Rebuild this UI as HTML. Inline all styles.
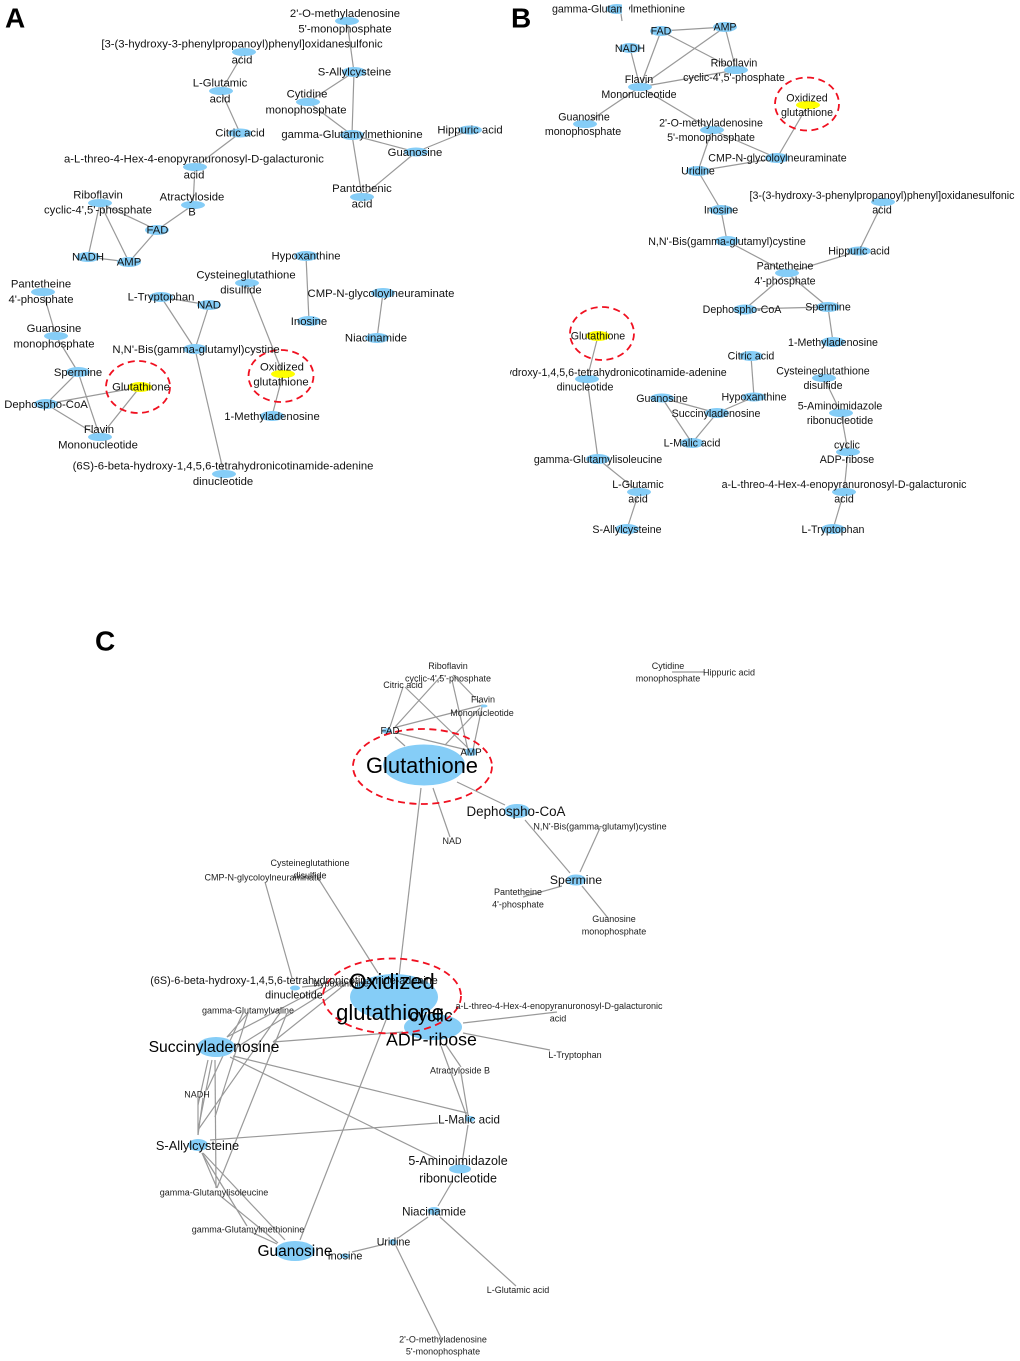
<!DOCTYPE html>
<html><head><meta charset="utf-8"><style>
html,body{margin:0;padding:0;background:#fff}
svg{display:block;filter:blur(.3px)}
text{font-family:"Liberation Sans",Arial,sans-serif;fill:#111;text-anchor:middle;dominant-baseline:central;font-size:11.3px;transform:translateY(.6px)}
.b{font-size:10.65px}
.s{font-size:9px;fill:#222}
.h{font-size:28px;font-weight:bold;fill:#000;text-anchor:start;dominant-baseline:auto}
.e line{stroke:#999;stroke-width:1.2}
.n ellipse{fill:#85cdf7}
.y{fill:#ffff00}
.r{fill:none;stroke:#f01020;stroke-width:1.8;stroke-dasharray:7 4.5}
</style></head><body>
<svg width="1020" height="1361" viewBox="0 0 1020 1361" xmlns="http://www.w3.org/2000/svg">
<rect width="1020" height="1361" fill="#fff"/>
<text class="h" x="5" y="27">A</text>
<text class="h" x="511" y="27">B</text>
<text class="h" x="95" y="650">C</text>

<!-- Panel A edges -->
<g class="e">
<line x1="347" y1="21" x2="354" y2="72"/><line x1="244" y1="52" x2="221" y2="91"/><line x1="221" y1="91" x2="240" y2="133"/><line x1="240" y1="133" x2="195" y2="167"/><line x1="195" y1="167" x2="193" y2="205"/><line x1="193" y1="205" x2="157" y2="230"/><line x1="157" y1="230" x2="100" y2="203"/><line x1="157" y1="230" x2="129" y2="262"/><line x1="100" y1="203" x2="88" y2="257"/><line x1="100" y1="203" x2="129" y2="262"/><line x1="88" y1="257" x2="129" y2="262"/>
<line x1="354" y1="72" x2="308" y2="102"/><line x1="354" y1="72" x2="352" y2="135"/><line x1="308" y1="102" x2="352" y2="135"/><line x1="352" y1="135" x2="416" y2="152"/><line x1="352" y1="135" x2="362" y2="197"/><line x1="416" y1="152" x2="470" y2="130"/><line x1="416" y1="152" x2="362" y2="197"/>
<line x1="306" y1="256" x2="309" y2="321"/><line x1="383" y1="293" x2="377" y2="338"/><line x1="247" y1="283" x2="283" y2="374"/><line x1="283" y1="374" x2="272" y2="416"/><line x1="161" y1="297" x2="209" y2="305"/><line x1="161" y1="297" x2="195" y2="349"/><line x1="209" y1="305" x2="195" y2="349"/><line x1="195" y1="349" x2="224" y2="474"/>
<line x1="43" y1="292" x2="56" y2="336"/><line x1="56" y1="336" x2="78" y2="372"/><line x1="78" y1="372" x2="46" y2="404"/><line x1="78" y1="372" x2="100" y2="437"/><line x1="46" y1="404" x2="140" y2="387"/><line x1="46" y1="404" x2="100" y2="437"/><line x1="140" y1="387" x2="100" y2="437"/>
</g>
<!-- Panel A nodes -->
<g class="n">
<ellipse cx="347" cy="21" rx="12" ry="4"/><ellipse cx="244" cy="52" rx="12" ry="4"/><ellipse cx="221" cy="91" rx="12" ry="4"/><ellipse cx="240" cy="133" rx="12" ry="4.5"/><ellipse cx="195" cy="167" rx="12" ry="4"/><ellipse cx="193" cy="205" rx="12" ry="4"/><ellipse cx="100" cy="203" rx="12" ry="4"/><ellipse cx="157" cy="230" rx="12" ry="5"/><ellipse cx="88" cy="257" rx="12" ry="5"/><ellipse cx="129" cy="262" rx="12" ry="5"/>
<ellipse cx="354" cy="72" rx="12" ry="5"/><ellipse cx="308" cy="102" rx="12" ry="4"/><ellipse cx="352" cy="135" rx="12" ry="5"/><ellipse cx="470" cy="130" rx="12" ry="4.5"/><ellipse cx="416" cy="152" rx="12" ry="4.5"/><ellipse cx="362" cy="197" rx="12" ry="4"/>
<ellipse cx="306" cy="256" rx="12" ry="5"/><ellipse cx="247" cy="283" rx="12" ry="4"/><ellipse cx="383" cy="293" rx="12" ry="5"/><ellipse cx="309" cy="321" rx="12" ry="5"/><ellipse cx="377" cy="338" rx="12" ry="5"/><ellipse cx="161" cy="297" rx="12" ry="5"/><ellipse cx="209" cy="305" rx="12" ry="5"/><ellipse cx="195" cy="349" rx="12" ry="5"/><ellipse cx="272" cy="416" rx="12" ry="5"/>
<ellipse cx="43" cy="292" rx="12" ry="4"/><ellipse cx="56" cy="336" rx="12" ry="4"/><ellipse cx="78" cy="372" rx="12" ry="5"/><ellipse cx="46" cy="404" rx="12" ry="5"/><ellipse cx="100" cy="437" rx="12" ry="4"/><ellipse cx="224" cy="474" rx="12" ry="4"/>
</g>
<ellipse class="y" cx="283" cy="374" rx="12" ry="4"/><ellipse class="y" cx="140" cy="387" rx="12" ry="5"/>
<ellipse class="r" cx="281" cy="376" rx="32.5" ry="26"/><ellipse class="r" cx="138" cy="387" rx="32" ry="26"/>
<!-- Panel A labels -->
<g>
<text x="345" y="13.5">2'-O-methyladenosine</text><text x="345" y="29">5'-monophosphate</text>
<text x="242" y="44">[3-(3-hydroxy-3-phenylpropanoyl)phenyl]oxidanesulfonic</text><text x="242" y="60">acid</text>
<text x="220" y="83">L-Glutamic</text><text x="220" y="99">acid</text>
<text x="240" y="133">Citric acid</text>
<text x="194" y="159">a-L-threo-4-Hex-4-enopyranuronosyl-D-galacturonic</text><text x="194" y="175">acid</text>
<text x="192" y="197">Atractyloside</text><text x="192" y="212">B</text>
<text x="98" y="195">Riboflavin</text><text x="98" y="210">cyclic-4',5'-phosphate</text>
<text x="157.5" y="230">FAD</text><text x="88" y="257">NADH</text><text x="129" y="262">AMP</text>
<text x="354.5" y="72">S-Allylcysteine</text>
<text x="307" y="94">Cytidine</text><text x="306" y="110">monophosphate</text>
<text x="352" y="134.5">gamma-Glutamylmethionine</text>
<text x="470" y="130">Hippuric acid</text><text x="415" y="152.5">Guanosine</text>
<text x="362" y="188.5">Pantothenic</text><text x="362" y="204">acid</text>
<text x="306" y="256">Hypoxanthine</text>
<text x="246" y="275">Cysteineglutathione</text><text x="241" y="290">disulfide</text>
<text x="381" y="293.5">CMP-N-glycoloylneuraminate</text><text x="309" y="321.5">Inosine</text><text x="376" y="338">Niacinamide</text>
<text x="161" y="297">L-Tryptophan</text><text x="209" y="305">NAD</text>
<text x="196" y="349.5">N,N'-Bis(gamma-glutamyl)cystine</text>
<text x="282" y="367">Oxidized</text><text x="281" y="382">glutathione</text>
<text x="272" y="416.5">1-Methyladenosine</text><text x="141" y="387">Glutathione</text>
<text x="41" y="284">Pantetheine</text><text x="41" y="299.5">4'-phosphate</text>
<text x="54" y="328.5">Guanosine</text><text x="54" y="344">monophosphate</text>
<text x="78" y="372.5">Spermine</text><text x="46" y="404.5">Dephospho-CoA</text>
<text x="99" y="429.5">Flavin</text><text x="98" y="445">Mononucleotide</text>
<text x="223" y="466">(6S)-6-beta-hydroxy-1,4,5,6-tetrahydronicotinamide-adenine</text><text x="223" y="481.5">dinucleotide</text>
</g>

<!-- Panel B edges -->
<g class="e">
<line x1="661" y1="31" x2="725" y2="27"/><line x1="661" y1="31" x2="736" y2="70"/><line x1="725" y1="27" x2="736" y2="70"/><line x1="725" y1="27" x2="640" y2="87"/><line x1="661" y1="31" x2="640" y2="87"/><line x1="630" y1="48" x2="640" y2="87"/><line x1="640" y1="87" x2="736" y2="70"/><line x1="640" y1="87" x2="585" y2="124"/><line x1="640" y1="87" x2="712" y2="130"/><line x1="712" y1="130" x2="777" y2="158"/><line x1="712" y1="130" x2="698" y2="171"/><line x1="777" y1="158" x2="698" y2="171"/><line x1="777" y1="158" x2="808" y2="105"/><line x1="698" y1="171" x2="721" y2="210"/><line x1="721" y1="210" x2="727" y2="241"/><line x1="727" y1="241" x2="787" y2="273"/><line x1="787" y1="273" x2="859" y2="251"/><line x1="859" y1="251" x2="883" y2="202"/><line x1="621" y1="14" x2="622" y2="21"/>
<line x1="787" y1="273" x2="745" y2="309"/><line x1="787" y1="273" x2="828" y2="307"/><line x1="745" y1="309" x2="828" y2="307"/><line x1="828" y1="307" x2="833" y2="342"/><line x1="751" y1="356" x2="754" y2="397"/><line x1="754" y1="397" x2="717" y2="413"/><line x1="662" y1="398" x2="717" y2="413"/><line x1="662" y1="398" x2="692" y2="443"/><line x1="717" y1="413" x2="692" y2="443"/><line x1="824" y1="378" x2="841" y2="413"/><line x1="841" y1="413" x2="848" y2="452"/><line x1="848" y1="452" x2="844" y2="492"/><line x1="844" y1="492" x2="833" y2="529"/><line x1="598" y1="336" x2="587" y2="379"/><line x1="587" y1="379" x2="598" y2="459"/><line x1="598" y1="459" x2="639" y2="492"/><line x1="639" y1="492" x2="627" y2="529"/>
</g>
<!-- Panel B nodes -->
<g class="n">
<ellipse cx="617" cy="9" rx="11" ry="5"/><ellipse cx="661" cy="31" rx="11" ry="5"/><ellipse cx="725" cy="27" rx="12" ry="5"/><ellipse cx="630" cy="48" rx="11" ry="5"/><ellipse cx="736" cy="70" rx="12" ry="4"/><ellipse cx="640" cy="87" rx="12" ry="4"/><ellipse cx="585" cy="124" rx="12" ry="4"/><ellipse cx="712" cy="130" rx="12" ry="4"/><ellipse cx="777" cy="158" rx="12" ry="5"/><ellipse cx="698" cy="171" rx="12" ry="5"/><ellipse cx="721" cy="210" rx="12" ry="5"/><ellipse cx="727" cy="241" rx="12" ry="5"/><ellipse cx="883" cy="202" rx="12" ry="4"/><ellipse cx="859" cy="251" rx="12" ry="4.5"/><ellipse cx="787" cy="273" rx="12" ry="4"/>
<ellipse cx="745" cy="309.5" rx="12" ry="5"/><ellipse cx="828" cy="307" rx="12" ry="5"/><ellipse cx="833" cy="342" rx="12" ry="5"/><ellipse cx="751" cy="356" rx="12" ry="5"/><ellipse cx="754" cy="397" rx="12" ry="4.5"/><ellipse cx="662" cy="398" rx="12" ry="4.5"/><ellipse cx="717" cy="413" rx="12" ry="5"/><ellipse cx="692" cy="443" rx="12" ry="5"/><ellipse cx="824" cy="378" rx="12" ry="4"/><ellipse cx="841" cy="413" rx="12" ry="4"/><ellipse cx="848" cy="452" rx="12" ry="4"/><ellipse cx="844" cy="492" rx="12" ry="4"/><ellipse cx="833" cy="529" rx="12" ry="5"/><ellipse cx="587" cy="379" rx="12" ry="4"/><ellipse cx="598" cy="459" rx="12" ry="5"/><ellipse cx="639" cy="492" rx="12" ry="4"/><ellipse cx="627" cy="529" rx="12" ry="5"/>
</g>
<ellipse class="y" cx="808" cy="105" rx="12" ry="4"/><ellipse class="y" cx="598" cy="336" rx="12" ry="5"/>
<ellipse class="r" cx="807" cy="104" rx="32" ry="26.5"/><ellipse class="r" cx="602" cy="333.5" rx="32" ry="26.5"/>
<!-- Panel B labels -->
<g>
<text class="b" x="618.5" y="9">gamma-Glutamylmethionine</text>
<rect x="622" y="2" width="7" height="14" fill="#fff"/>
<text class="b" x="661" y="31">FAD</text><text class="b" x="725" y="27">AMP</text><text class="b" x="630" y="48.5">NADH</text>
<text class="b" x="734" y="63">Riboflavin</text><text class="b" x="734" y="77.5">cyclic-4',5'-phosphate</text>
<text class="b" x="639" y="79.5">Flavin</text><text class="b" x="639" y="94.5">Mononucleotide</text>
<text class="b" x="584" y="117">Guanosine</text><text class="b" x="583" y="131.5">monophosphate</text>
<text class="b" x="807" y="98">Oxidized</text><text class="b" x="807" y="112.5">glutathione</text>
<text class="b" x="711" y="123">2'-O-methyladenosine</text><text class="b" x="711" y="137.5">5'-monophosphate</text>
<text class="b" x="777.5" y="158">CMP-N-glycoloylneuraminate</text><text class="b" x="698" y="171">Uridine</text>
<text class="b" x="882" y="195.5">[3-(3-hydroxy-3-phenylpropanoyl)phenyl]oxidanesulfonic</text><text class="b" x="882" y="210">acid</text>
<text class="b" x="721" y="210">Inosine</text><text class="b" x="727" y="241.5">N,N'-Bis(gamma-glutamyl)cystine</text>
<text class="b" x="859" y="251">Hippuric acid</text>
<text class="b" x="785" y="266">Pantetheine</text><text class="b" x="785" y="281">4'-phosphate</text>
<text class="b" x="742" y="309.5">Dephospho-CoA</text><text class="b" x="828" y="307">Spermine</text><text class="b" x="833" y="342.5">1-Methyladenosine</text>
<text class="b" x="751" y="356">Citric acid</text><text class="b" x="754" y="397">Hypoxanthine</text><text class="b" x="662" y="398.5">Guanosine</text><text class="b" x="716" y="413.5">Succinyladenosine</text><text class="b" x="692" y="443">L-Malic acid</text>
<text class="b" x="823" y="371">Cysteineglutathione</text><text class="b" x="823" y="385.5">disulfide</text>
<text class="b" x="840" y="406">5-Aminoimidazole</text><text class="b" x="840" y="420.5">ribonucleotide</text>
<text class="b" x="847" y="445">cyclic</text><text class="b" x="847" y="459.5">ADP-ribose</text>
<text class="b" x="844" y="484.5">a-L-threo-4-Hex-4-enopyranuronosyl-D-galacturonic</text><text class="b" x="844" y="499">acid</text>
<text class="b" x="833" y="529.5">L-Tryptophan</text>
<text class="b" x="598" y="336">Glutathione</text>
<text class="b" x="585" y="372.5">(6S)-6-beta-hydroxy-1,4,5,6-tetrahydronicotinamide-adenine</text>
<rect x="420" y="364" width="90" height="17" fill="#fff"/>
<text class="b" x="585" y="387">dinucleotide</text>
<text class="b" x="598" y="459.5">gamma-Glutamylisoleucine</text>
<text class="b" x="638" y="484.5">L-Glutamic</text><text class="b" x="638" y="499">acid</text>
<text class="b" x="627" y="529.5">S-Allylcysteine</text>
</g>

<!-- Panel C edges -->
<g class="e">
<line x1="395" y1="727" x2="442" y2="675"/><line x1="403" y1="687" x2="390" y2="727"/><line x1="405" y1="687" x2="468" y2="748"/><line x1="452" y1="680" x2="468" y2="750"/><line x1="453" y1="675" x2="480" y2="703"/><line x1="483" y1="705" x2="393" y2="728"/><line x1="482" y1="707" x2="473" y2="750"/><line x1="480" y1="708" x2="445" y2="745"/><line x1="397" y1="733" x2="467" y2="750"/><line x1="395" y1="737" x2="405" y2="746"/><line x1="457" y1="782" x2="505" y2="805"/><line x1="433" y1="788" x2="450" y2="837"/><line x1="421" y1="788" x2="398" y2="985"/><line x1="525" y1="820" x2="570" y2="873"/><line x1="580" y1="872" x2="600" y2="828"/><line x1="562" y1="886" x2="523" y2="897"/><line x1="582" y1="886" x2="608" y2="918"/><line x1="672" y1="672" x2="704" y2="672"/>
<line x1="318" y1="878" x2="378" y2="973"/><line x1="265" y1="882" x2="292" y2="978"/>
<line x1="463" y1="1023" x2="557" y2="1012"/><line x1="463" y1="1033" x2="550" y2="1050"/><line x1="441" y1="1046" x2="467" y2="1117"/><line x1="446" y1="1045" x2="461" y2="1067"/><line x1="461" y1="1073" x2="468" y2="1115"/><line x1="468" y1="1125" x2="462" y2="1163"/><line x1="452" y1="1182" x2="438" y2="1206"/><line x1="428" y1="1217" x2="398" y2="1238"/><line x1="440" y1="1217" x2="516" y2="1286"/><line x1="385" y1="1244" x2="352" y2="1252"/><line x1="396" y1="1246" x2="442" y2="1340"/><line x1="300" y1="1240" x2="386" y2="1020"/>
<line x1="273" y1="1042" x2="403" y2="1032"/><line x1="233" y1="1056" x2="467" y2="1113"/><line x1="230" y1="1057" x2="435" y2="1158"/><line x1="210" y1="1140" x2="438" y2="1123"/>
<line x1="302" y1="987" x2="322" y2="985"/><line x1="322" y1="987" x2="227" y2="1037"/><line x1="340" y1="983" x2="237" y2="1047"/><line x1="348" y1="982" x2="273" y2="1042"/><line x1="248" y1="1013" x2="227" y2="1037"/><line x1="248" y1="1013" x2="215" y2="1117"/><line x1="280" y1="1013" x2="198" y2="1130"/><line x1="287" y1="1013" x2="217" y2="1188"/><line x1="212" y1="1060" x2="198" y2="1130"/><line x1="215" y1="1060" x2="216" y2="1188"/><line x1="198" y1="1098" x2="198" y2="1135"/><line x1="208" y1="1060" x2="198" y2="1105"/><line x1="243" y1="1013" x2="207" y2="1090"/><line x1="203" y1="1098" x2="198" y2="1135"/>
<line x1="202" y1="1153" x2="217" y2="1188"/><line x1="202" y1="1153" x2="247" y2="1226"/><line x1="203" y1="1153" x2="285" y2="1240"/><line x1="218" y1="1194" x2="278" y2="1243"/><line x1="251" y1="1232" x2="277" y2="1244"/>
</g>
<!-- Panel C nodes -->
<g class="n">
<ellipse cx="484" cy="706" rx="3.5" ry="1.5"/><ellipse cx="387" cy="731" rx="5" ry="3"/><ellipse cx="471" cy="752" rx="6" ry="4"/><ellipse cx="424" cy="765" rx="41" ry="20.5"/><ellipse cx="517" cy="811" rx="13" ry="7"/><ellipse cx="576" cy="880" rx="10" ry="5.5"/><ellipse cx="295" cy="988" rx="5" ry="2.5"/><ellipse cx="394" cy="997" rx="44" ry="23"/><ellipse cx="433" cy="1027" rx="29" ry="13"/><ellipse cx="216" cy="1047" rx="19" ry="10"/><ellipse cx="198" cy="1145" rx="10" ry="6"/><ellipse cx="295" cy="1251" rx="20" ry="10"/><ellipse cx="345" cy="1256" rx="5" ry="2.5"/><ellipse cx="393" cy="1242" rx="4" ry="3"/><ellipse cx="434" cy="1211" rx="6.5" ry="4"/><ellipse cx="460" cy="1169" rx="11" ry="4.5"/><ellipse cx="470" cy="1119" rx="5" ry="3"/>
</g>
<ellipse class="r" cx="422.5" cy="766.5" rx="69.5" ry="37.5"/>
<ellipse class="r" cx="392" cy="996" rx="69" ry="37.5"/>
<!-- Panel C labels -->
<g>
<text class="s" x="448" y="665.5">Riboflavin</text><text class="s" x="448" y="678">cyclic-4',5'-phosphate</text>
<text class="s" x="403" y="684.5">Citric acid</text>
<text class="s" x="483" y="699">Flavin</text><text class="s" x="482" y="712.5">Mononucleotide</text>
<text x="390" y="731" style="font-size:9.8px">FAD</text><text x="471" y="752.5" style="font-size:9.8px">AMP</text>
<text x="422" y="765" style="font-size:21.9px;fill:#000">Glutathione</text>
<text x="516" y="811" style="font-size:13.4px">Dephospho-CoA</text>
<text class="s" x="600" y="826">N,N'-Bis(gamma-glutamyl)cystine</text>
<text class="s" x="452" y="840.5">NAD</text>
<text x="576" y="879.5" style="font-size:12.2px">Spermine</text>
<text class="s" x="518" y="891.5">Pantetheine</text><text class="s" x="518" y="904">4'-phosphate</text>
<text class="s" x="614" y="918.5">Guanosine</text><text class="s" x="614" y="931">monophosphate</text>
<text class="s" x="668" y="665.5">Cytidine</text><text class="s" x="668" y="678">monophosphate</text>
<text class="s" x="729" y="672">Hippuric acid</text>
<text class="s" x="310" y="862.5">Cysteineglutathione</text><text class="s" x="310" y="875">disulfide</text>
<text class="s" x="263" y="877">CMP-N-glycoloylneuraminate</text>
<text x="294" y="980.5" style="font-size:10.8px">(6S)-6-beta-hydroxy-1,4,5,6-tetrahydronicotinamide-adenine</text>
<text x="294" y="995" style="font-size:10.8px">dinucleotide</text>
<text class="s" x="341" y="983">Hypoxanthine</text>
<text class="s" x="248" y="1010">gamma-Glutamylvaline</text>
<text x="392" y="981" style="font-size:22px;fill:#000">Oxidized</text>
<text x="390" y="1012" style="font-size:22px;fill:#000">glutathione</text>
<text x="431" y="1015" style="font-size:17.8px;fill:#000">cyclic</text>
<text x="431.5" y="1039" style="font-size:17.8px;fill:#000">ADP-ribose</text>
<text class="s" x="559" y="1005.5">a-L-threo-4-Hex-4-enopyranuronosyl-D-galacturonic</text><text class="s" x="558" y="1018">acid</text>
<text class="s" x="575" y="1054.5">L-Tryptophan</text>
<text class="s" x="460" y="1070">Atractyloside B</text>
<text x="214" y="1047" style="font-size:15.7px;fill:#000">Succinyladenosine</text>
<text class="s" x="197" y="1094">NADH</text>
<text x="469" y="1119.5" style="font-size:11.6px">L-Malic acid</text>
<text x="197.5" y="1145" style="font-size:12.8px">S-Allylcysteine</text>
<text x="458" y="1160.5" style="font-size:12.5px">5-Aminoimidazole</text><text x="458" y="1178" style="font-size:12.5px">ribonucleotide</text>
<text class="s" x="214" y="1192">gamma-Glutamylisoleucine</text>
<text x="434" y="1211.5" style="font-size:11.6px">Niacinamide</text>
<text class="s" x="248" y="1229">gamma-Glutamylmethionine</text>
<text x="393.5" y="1242" style="font-size:10.6px">Uridine</text>
<text x="295" y="1251" style="font-size:15.5px;fill:#000">Guanosine</text>
<text x="345" y="1256" style="font-size:10.8px">Inosine</text>
<text class="s" x="518" y="1289.5">L-Glutamic acid</text>
<text class="s" x="443" y="1339">2'-O-methyladenosine</text><text class="s" x="443" y="1351">5'-monophosphate</text>
</g>
</svg>
</body></html>
